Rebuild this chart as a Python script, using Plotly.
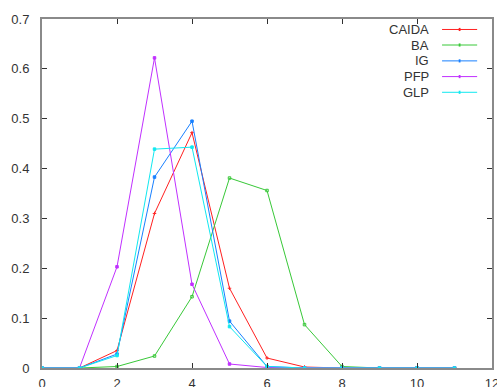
import plotly.graph_objects as go

# Node degree (x) and fraction of nodes (y) for each topology model
degree = [0, 1, 2, 3, 4, 5, 6, 7, 8, 9, 10, 11]
caida = [0, 0, 0.035, 0.310, 0.472, 0.160, 0.020, 0.002, 0, 0, 0, 0]
ba = [0, 0, 0.003, 0.024, 0.143, 0.381, 0.356, 0.087, 0.003, 0, 0, 0]
ig = [0, 0, 0.028, 0.383, 0.495, 0.094, 0.003, 0, 0, 0, 0, 0]
pfp = [0, 0, 0.203, 0.622, 0.168, 0.008, 0.001, 0, 0, 0, 0, 0]
glp = [0, 0, 0.025, 0.439, 0.443, 0.083, 0.003, 0, 0, 0, 0, 0]

names = ["CAIDA", "BA", "IG", "PFP", "GLP"]
values = [caida, ba, ig, pfp, glp]
colors = ["#ff2020", "#38c838", "#1880ff", "#c030ff", "#10e8f0"]
symbols = ["cross-thin", "square-open", "square", "square", "square"]

x_ticks = [0, 2, 4, 6, 8, 10, 12]
y_ticks = [0, 0.1, 0.2, 0.3, 0.4, 0.5, 0.6, 0.7]
y_labels = ["0", "0.1", "0.2", "0.3", "0.4", "0.5", "0.6", "0.7"]

font = dict(family="Liberation Sans, Arial, sans-serif", size=13, color="#333333")

fig = go.Figure()
for name, vals, col, sym in zip(names, values, colors, symbols):
    fig.add_trace(go.Scatter(
        x=degree, y=vals, name=name, mode="lines+markers",
        line=dict(color=col, width=1),
        marker=dict(color=col, size=2.5, symbol=sym, line=dict(color=col, width=1)),
        cliponaxis=False,
    ))

# Key in the top-right corner: label on the left, line sample on the right
row_y = [0.970, 0.9255, 0.880, 0.835, 0.790]
shapes = []
annotations = []
for name, col, yy in zip(names, colors, row_y):
    annotations.append(dict(
        x=0.865, y=yy, xref="paper", yref="paper", text=name,
        showarrow=False, xanchor="right", yanchor="middle", font=font,
    ))
    shapes.append(dict(
        type="line", xref="paper", yref="paper",
        x0=0.889, x1=0.967, y0=yy, y1=yy, line=dict(color=col, width=1),
    ))
    shapes.append(dict(
        type="rect", xref="paper", yref="paper",
        x0=0.926, x1=0.930, y0=yy - 0.0045, y1=yy + 0.0045,
        line=dict(width=0), fillcolor=col,
    ))

axis_common = dict(
    showline=True, linecolor="#8a8a8a", linewidth=2, mirror="ticks",
    ticks="inside", ticklen=5, tickcolor="#303030", tickwidth=1,
    showgrid=False, zeroline=False, tickfont=font, layer="above traces",
    ticklabeloverflow="allow", automargin=False,
)

fig.update_layout(
    width=497, height=387,
    margin=dict(l=42, r=5, t=19, b=19),
    paper_bgcolor="white", plot_bgcolor="white",
    showlegend=False,
    shapes=shapes, annotations=annotations,
    xaxis=dict(range=[0, 12], tickvals=x_ticks, ticklabelstandoff=2, **axis_common),
    yaxis=dict(range=[0, 0.7], tickvals=y_ticks, ticktext=y_labels,
               ticklabelstandoff=8, **axis_common),
)

fig.write_html("out.html")
